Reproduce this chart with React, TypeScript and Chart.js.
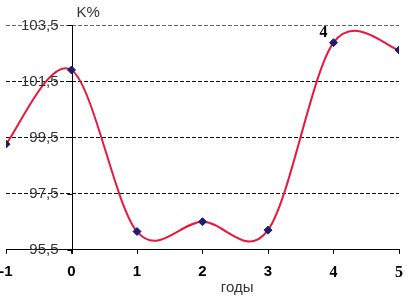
import React, { useEffect, useRef } from 'react';
import { Chart, registerables } from 'chart.js';

Chart.register(...registerables);

// ---- data ----
const X_VALUES = [-1, 0, 1, 2, 3, 4, 5];
const K_VALUES = [99.26, 101.9, 96.15, 96.5, 96.2, 102.87, 102.61];
const Y_TICKS = [95.5, 97.5, 99.5, 101.5, 103.5];
const Y_TICK_LABELS = ['95,5', '97,5', '99,5', '101,5', '103,5'];
const X_TICKS = [-1, 0, 1, 2, 3, 4, 5];
const X_TICK_LABELS = ['-1', '0', '1', '2', '3', '4', '5'];
const Y_TITLE = 'K%';
const X_TITLE = 'годы';
const NOTE_X = 4;
const NOTE_TEXT = '4';

const SANS = '"Liberation Sans", Arial, sans-serif';
const SERIF = '"Liberation Serif", "Times New Roman", serif';

// Excel-style smoothing (uniform Catmull-Rom) applied to the line element's control points
const smoothPlugin = {
  id: 'excelSmooth',
  beforeDatasetsDraw(chart: any) {
    const meta = chart.getDatasetMeta(0);
    const pts = meta.data;
    const n = pts.length;
    for (let i = 0; i < n; i++) {
      const p = pts[i];
      const prev = pts[Math.max(i - 1, 0)];
      const next = pts[Math.min(i + 1, n - 1)];
      const dx = (next.x - prev.x) / 6;
      const dy = (next.y - prev.y) / 6;
      p.cp1x = p.x - dx;
      p.cp1y = p.y - dy;
      p.cp2x = p.x + dx;
      p.cp2y = p.y + dy;
    }
    if (meta.dataset) {
      meta.dataset._pointsUpdated = true;
      delete meta.dataset._path;
    }
  },
};

const axisPlugin = {
  id: 'axisAtZero',
  beforeDatasetsDraw(chart: any) {
    const { ctx, scales } = chart;
    const x = scales.x;
    const y = scales.y;
    const x0 = Math.round(x.getPixelForValue(0)) + 0.5;
    ctx.save();
    ctx.strokeStyle = '#000';
    ctx.lineWidth = 1;
    ctx.setLineDash([]);
    ctx.beginPath();
    ctx.moveTo(x0, Math.round(y.getPixelForValue(Y_TICKS[Y_TICKS.length - 1])));
    ctx.lineTo(x0, Math.round(y.getPixelForValue(Y_TICKS[0])) + 4);
    Y_TICKS.forEach((v) => {
      const py = Math.round(y.getPixelForValue(v)) + 0.5;
      ctx.moveTo(x0 - 5, py);
      ctx.lineTo(x0, py);
    });
    ctx.stroke();
    ctx.restore();
  },
  afterDraw(chart: any) {
    const { ctx, scales } = chart;
    const x = scales.x;
    const y = scales.y;
    const x0 = x.getPixelForValue(0);
    ctx.save();
    ctx.fillStyle = '#333';
    ctx.font = '15px ' + SANS;
    ctx.textAlign = 'right';
    ctx.textBaseline = 'middle';
    Y_TICKS.forEach((v, i) => {
      ctx.fillText(Y_TICK_LABELS[i], x0 - 13, y.getPixelForValue(v) + 0.5);
    });
    ctx.textAlign = 'left';
    ctx.fillText(Y_TITLE, x0 + 5, y.getPixelForValue(Y_TICKS[Y_TICKS.length - 1]) - 12);
    ctx.textAlign = 'center';
    ctx.fillText(X_TITLE, x.getPixelForValue(2.53), 288);
    const idx = X_VALUES.indexOf(NOTE_X);
    ctx.fillStyle = '#000';
    ctx.font = 'bold 16px ' + SERIF;
    ctx.fillText(NOTE_TEXT, x.getPixelForValue(NOTE_X) - 10, y.getPixelForValue(K_VALUES[idx]) - 10);
    ctx.restore();
  },
};

export default function App() {
  const ref = useRef<HTMLCanvasElement>(null);
  useEffect(() => {
    if (!ref.current) return;
    const chart = new Chart(ref.current, {
      type: 'line',
      data: {
        datasets: [
          {
            data: X_VALUES.map((xv, i) => ({ x: xv, y: K_VALUES[i] })),
            borderColor: '#e8193c',
            borderWidth: 2,
            tension: 0.4,
            capBezierPoints: false,
            pointStyle: 'rectRot',
            pointRadius: 4,
            pointBackgroundColor: '#1c1c70',
            pointBorderColor: '#1c1c70',
            pointBorderWidth: 1,
            fill: false,
          } as any,
        ],
      },
      options: {
        animation: false,
        responsive: false,
        events: [],
        layout: { padding: { left: 6, right: 9, top: 25, bottom: 8 } },
        plugins: { legend: { display: false }, tooltip: { enabled: false } },
        scales: {
          x: {
            type: 'linear',
            min: -1,
            max: 5,
            afterBuildTicks: (axis: any) => {
              axis.ticks = X_TICKS.map((v) => ({ value: v }));
            },
            afterFit: (axis: any) => {
              axis.paddingLeft = 0;
              axis.paddingRight = 0;
            },
            ticks: {
              maxRotation: 0,
              autoSkip: false,
              padding: 9,
              color: '#000',
              callback: (v: any) => X_TICK_LABELS[X_TICKS.indexOf(Number(v))],
              font: (c: any) =>
                c.tick && c.tick.value >= 4
                  ? { family: SERIF, size: 16, weight: 'bold' }
                  : { family: SANS, size: 15, weight: 'bold' },
            },
            grid: {
              display: true,
              drawOnChartArea: false,
              drawTicks: true,
              tickLength: 4,
              color: '#000',
            },
            border: { display: true, color: '#000', width: 1 },
          },
          y: {
            type: 'linear',
            min: Y_TICKS[0],
            max: Y_TICKS[Y_TICKS.length - 1],
            afterBuildTicks: (axis: any) => {
              axis.ticks = Y_TICKS.map((v) => ({ value: v }));
            },
            ticks: { display: false },
            grid: {
              display: true,
              drawTicks: false,
              tickLength: 0,
              color: (c: any) =>
                c.tick && c.tick.value === Y_TICKS[0]
                  ? 'rgba(0,0,0,0)'
                  : c.tick && c.tick.value === Y_TICKS[Y_TICKS.length - 1]
                  ? '#666'
                  : '#111',
            },
            border: { display: false, dash: [4, 2] },
          },
        },
      } as any,
      plugins: [smoothPlugin, axisPlugin],
    });
    return () => chart.destroy();
  }, []);
  return (
    <div style={{ position: 'absolute', left: 0, top: 0, width: 408, height: 299, background: '#fff' }}>
      <canvas ref={ref} width={408} height={299} />
    </div>
  );
}
